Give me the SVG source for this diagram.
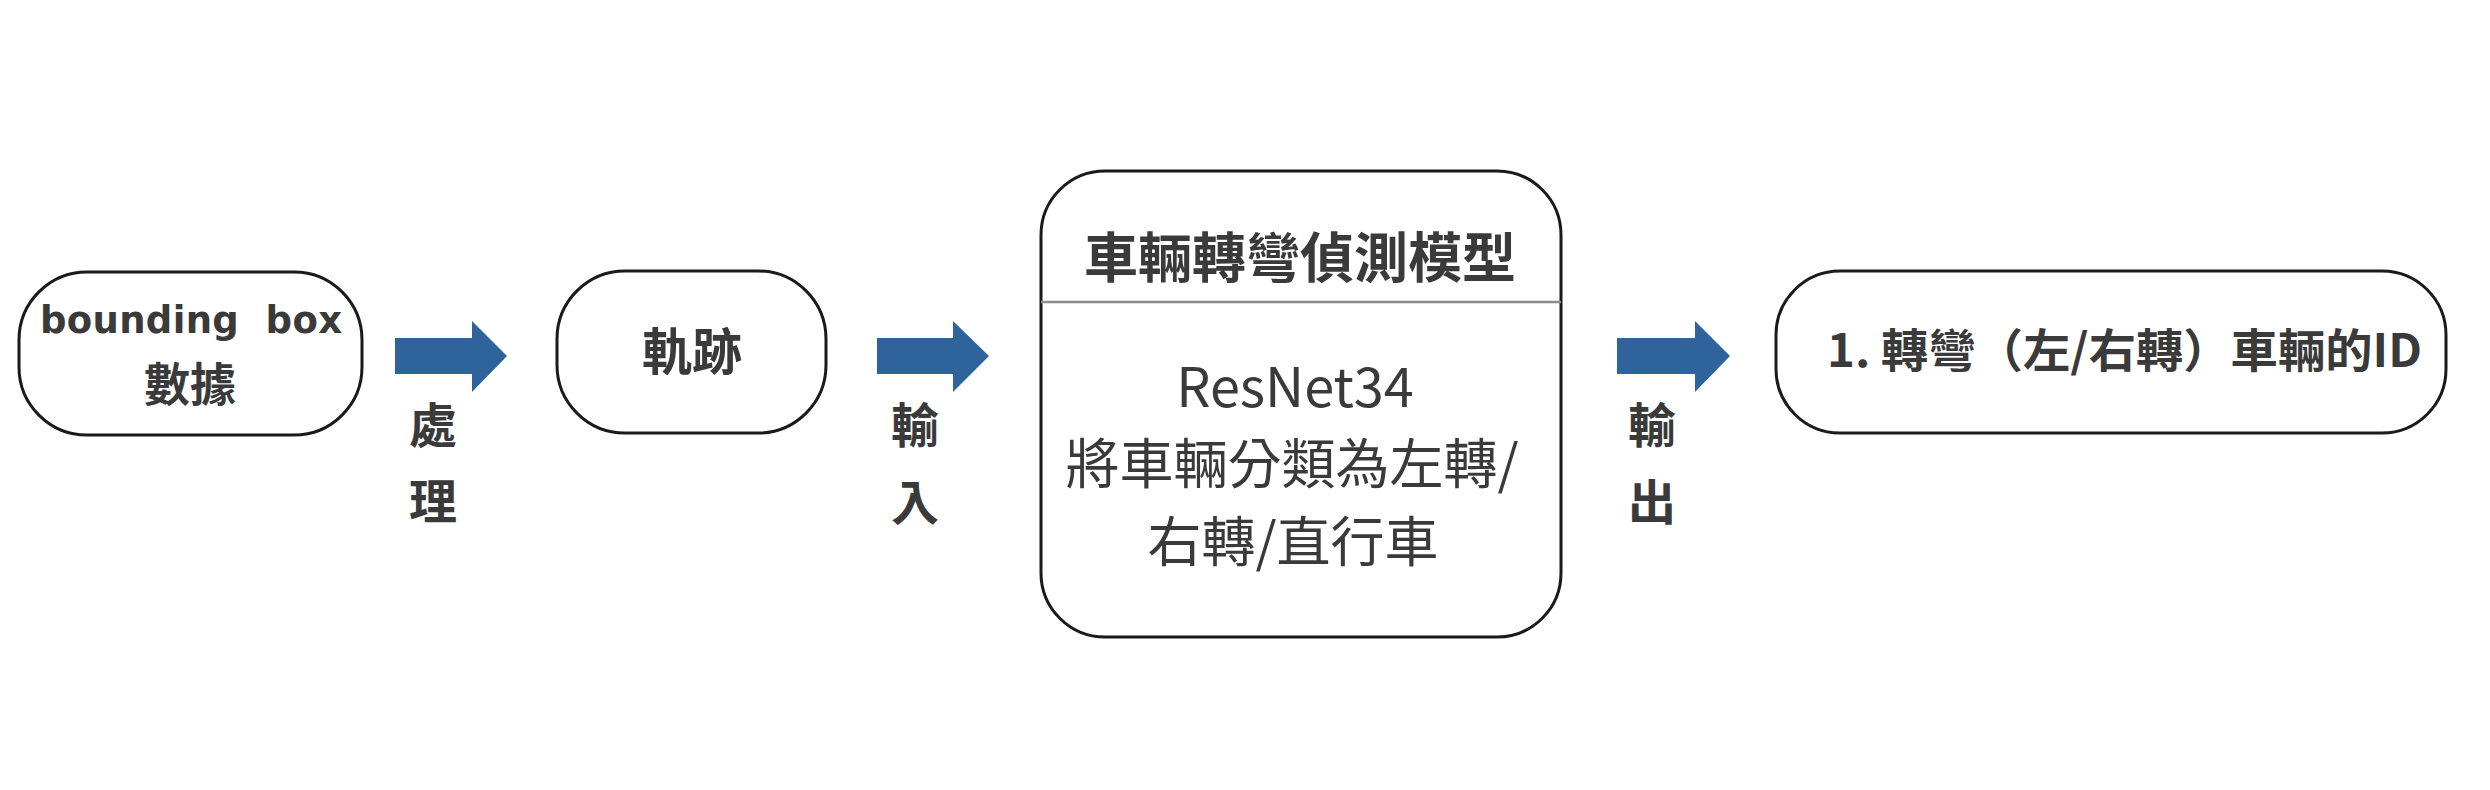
<svg xmlns="http://www.w3.org/2000/svg" width="2490" height="790" viewBox="0 0 2490 790">
<style>
.box{fill:#ffffff;stroke:#1a1a1a;stroke-width:3}
.t{fill:#3a3a3a;font-family:"Noto Sans CJK TC","Noto Sans CJK SC",sans-serif;font-weight:700}
.r{fill:#3a3a3a;font-family:"Noto Sans CJK TC","Noto Sans CJK SC",sans-serif;font-weight:400}
.lat{fill:#3a3a3a;font-family:"DejaVu Sans","Liberation Sans",sans-serif;font-weight:700}
.arr{fill:#2e649b}
</style>
<rect width="2490" height="790" fill="#ffffff"/>
<g id="connectors">
  <g id="c1">
    <polygon class="arr" points="395,338 472,338 472,321 507,356 472,392 472,374 395,374"/>
    <text class="t" font-size="48" x="433" y="443" text-anchor="middle">處</text>
    <text class="t" font-size="48" x="433" y="519" text-anchor="middle">理</text>
  </g>
  <g id="c2">
    <polygon class="arr" points="877,338 953,338 953,321 989,356 953,392 953,374 877,374"/>
    <text class="t" font-size="48" x="915" y="443" text-anchor="middle">輸</text>
    <text class="t" font-size="48" x="915" y="520" text-anchor="middle">入</text>
  </g>
  <g id="c3">
    <polygon class="arr" points="1617,338 1695,338 1695,321 1730,356 1695,392 1695,374 1617,374"/>
    <text class="t" font-size="48" x="1652" y="443" text-anchor="middle">輸</text>
    <text class="t" font-size="48" x="1652" y="520" text-anchor="middle">出</text>
  </g>
</g>
<g id="node-bbox">
  <rect class="box" x="19" y="272" width="343" height="163" rx="68" ry="68"/>
  <text class="lat" font-size="37" x="40" y="333" textLength="302" lengthAdjust="spacing" xml:space="preserve">bounding  box</text>
  <text class="t" font-size="46" x="190" y="401" text-anchor="middle">數據</text>
</g>
<g id="node-track">
  <rect class="box" x="557" y="271" width="269" height="162" rx="68" ry="68"/>
  <text class="t" font-size="50" x="692" y="370" text-anchor="middle">軌跡</text>
</g>
<g id="node-model">
  <rect class="box" x="1041" y="171" width="520" height="466" rx="64" ry="64"/>
  <line x1="1041" y1="302" x2="1561" y2="302" stroke="#8c8c8c" stroke-width="2.5"/>
  <text class="t" font-size="54" x="1300" y="278" text-anchor="middle">車輛轉彎偵測模型</text>
  <text class="r" font-size="54" x="1295" y="407" text-anchor="middle">ResNet34</text>
  <text class="r" font-size="54" x="1292" y="484" text-anchor="middle">將車輛分類為左轉/</text>
  <text class="r" font-size="54" x="1293" y="562" text-anchor="middle">右轉/直行車</text>
</g>
<g id="node-output">
  <rect class="box" x="1776" y="271" width="670" height="162" rx="64" ry="64"/>
  <text class="t" font-size="46" x="1827" y="367" textLength="595" lengthAdjust="spacingAndGlyphs">1. 轉彎（左/右轉）車輛的ID</text>
</g>
</svg>
